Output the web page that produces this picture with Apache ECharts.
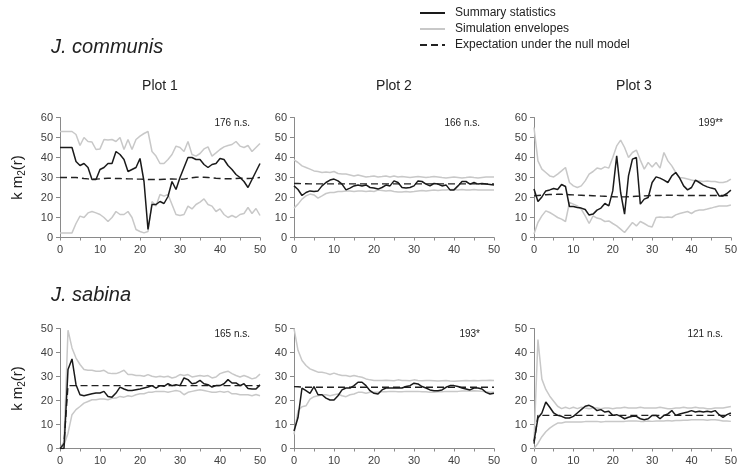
<!DOCTYPE html>
<html>
<head>
<meta charset="utf-8">
<script src="https://cdn.jsdelivr.net/npm/echarts@6/dist/echarts.min.js"></script>
<style>
  html, body { margin: 0; padding: 0; background: #fff; }
  #chart { width: 740px; height: 469px; }
</style>
</head>
<body>
<div id="chart"></div>
<script>
// Distance r (x axis)
const distances = [0,1,2,3,4,5,6,7,8,9,10,11,12,13,14,15,16,17,18,19,20,21,22,23,24,25,26,27,28,29,30,31,32,33,34,35,36,37,38,39,40,41,42,43,44,45,46,47,48,49,50];

// J. communis, Plot 1
const p1Sum = [45,45,45,45,38,36,37,35,29,29,34,35,37,37,43,41.5,39,33,34,35,39.5,28,4,16.5,16.5,18,17,20.5,28,24,30,35,40,40,39,39,36.5,35,36.5,37,39.5,39,36,34,31.5,30,28,25,29,33,37];
const p1Exp = [30,30,30,30,30,29.8,29.5,29.3,29.2,29.2,29.3,29.5,29.6,29.6,29.5,29.5,29.4,29.3,29.3,29.2,29.2,29.1,29,29,29,29,29.1,29.2,29.3,29.2,29.1,29.2,29.6,29.9,30.1,30.2,30.1,30,29.8,29.6,29.5,29.4,29.4,29.4,29.5,29.6,29.6,29.5,29.6,29.8,30];
const p1Up = [53,53,53,53,51.5,46,50,48,47.7,44,44.3,49,48.7,49,48,50,44,49,44,49,50.7,52,53,43,40.7,37,37,39,41.5,45.7,45,43,48,41.5,40.7,42,44.3,45.3,40.7,42.3,44,45.3,46,46.5,48,45.7,45,46,43,45,47];
const p1Lo = [2.3,2.3,2.3,2.3,7,10.7,10,12.3,13,12.3,11.5,10,8,10,13,11.5,11.5,13,10,4,3,2.3,3,18,15.7,21.5,20.7,21.5,16.5,11.5,11,11.5,15.7,14.3,16.5,17.7,19.3,16.5,15.7,13,14.3,11.5,10,11,10,11.5,12,15,12,14.5,11];

// J. communis, Plot 2
const p2Sum = [25.8,24,21,22.5,23.3,23,23.3,25.8,27.5,28.7,29.2,28.3,26.7,23.8,24.7,25.8,26.3,25.8,26.3,25,24.7,24.2,25,26.2,25.8,28.3,27.5,25,24.7,25,25.8,28.3,28,26.7,25.8,27,26.7,25.8,26.3,23.8,23.8,25.8,28,28,26.7,27.5,26.7,27,26.7,26.5,26.2];
const p2Exp = [27,27,26.9,26.9,26.8,26.8,26.8,26.8,26.8,26.8,26.8,26.8,26.8,26.8,26.8,26.8,26.8,26.8,26.8,26.8,26.8,26.8,26.8,26.8,26.8,26.8,26.8,26.8,26.8,26.8,26.8,26.8,26.8,26.8,26.8,26.8,26.8,26.8,26.8,26.8,26.8,26.8,26.8,26.8,26.8,26.8,26.8,26.8,26.8,26.8,26.8];
const p2Up = [38.8,37.5,35.8,35,34.2,33.3,33,32.5,32.8,32.5,33,32,31.7,31.7,31.3,30.8,31.3,30.8,30.3,30.5,30.8,30.3,30.5,30.8,30.3,30.8,30.3,30.5,30.3,30,30.3,30.5,30.3,30,30.2,30.5,30.3,30,29.8,30,30.2,30,29.8,30,30.3,30,29.8,30,30.2,30.3,30.3];
const p2Lo = [14.7,16.7,19.2,20.8,21.7,21.3,19.7,20.8,22,22.5,22.5,23,23,23.3,23.3,23,23.3,23.3,23,23.3,23,23.7,23.5,23.3,23.5,23,22.8,22.8,23,22.8,23,23.3,23.5,23.3,23.5,23.7,23.5,23.7,23.8,24,24,23.8,24,23.8,23.7,24,23.8,23.7,23.8,23.7,23.7];

// J. communis, Plot 3
const p3Sum = [24.2,18,20.3,23.3,23.8,24.5,24,26.5,25.5,15.5,15.5,15,14.7,14,11.2,11.7,13.7,14.7,17,15.8,23.3,40.8,22.5,11.7,30.8,39.2,40,16.7,19.2,20,27.5,30.3,29.7,28.7,27.5,30.8,32.5,29.7,25.8,23.8,25,28.7,27.5,26.2,25.3,24.7,24.2,20.8,20.8,22,23.7];
const p3Exp = [20.8,21,21.2,21.4,21.5,21.5,21.6,21.6,21.5,21.4,21.3,21.2,21.1,21,21,20.9,20.8,20.7,20.6,20.5,20.4,20.3,20.3,20.3,20.4,20.5,20.6,20.7,20.8,20.9,21,21,21,21.1,21.1,21.1,21.1,21,21,21,21,21,21,21,21,21,21,21,21,21,21];
const p3Up = [55,38.3,34.2,32.5,30.8,30.3,31.7,33.3,35,27.5,25.8,25,25.8,28.3,31.7,33,34.7,34.2,35.3,34.7,40,45.8,48.7,45,40,42.5,43.7,38.7,34.2,37.5,35.3,37.5,34.7,42.5,38.3,35.8,32.5,30,29.7,29.2,28.7,28.3,28.3,28,28.3,28,28,27.5,27.5,28,29.2];
const p3Lo = [1.7,7.5,10.8,13.3,12.5,11.3,10,9.2,8,17.5,16.7,15.8,14.2,10.8,7,10.8,9.7,9.2,8,8.3,7,5.8,4.2,2.5,5,7.5,5.8,8,7,5.8,5.3,10,10.3,10,10.3,10,11.3,12,12.5,13,12,13.3,13.7,13.8,14.2,14.7,15.3,15.8,15.8,15.8,16.2];

// J. sabina, Plot 1
const p4Sum = [0,0,32.9,37.3,26.6,22.4,22,22.4,22.8,23.1,23.1,23.8,21.7,21.4,23.1,25.6,24.8,24.2,24.2,24.5,24.8,25.2,25.6,26.2,25.2,26.2,25.9,27,26.2,26.6,26.2,29.4,28.7,27,27.3,28.4,27,26.6,25.6,26.2,26.2,27,28.7,27.3,27.3,26.2,27,25,24.8,24.8,26.5];
const p4Exp = [0,2,26.2,26.2,26.2,26.2,26.2,26.2,26.2,26.2,26.2,26.2,26.2,26.2,26.2,26.2,26.2,26.2,26.2,26.2,26.2,26.2,26.2,26.2,26.2,26.2,26.2,26.2,26.2,26.2,26.2,26.2,26.2,26.2,26.2,26.2,26.2,26.2,26.2,26.2,26.2,26.2,26.2,26.2,26.2,26.2,26.2,26.2,26.2,26.2,26.2];
const p4Up = [0,3,49.3,41.9,37.7,35,32.9,32.6,32.6,32.2,32.2,32.6,31.5,31.2,31.2,31.8,32.6,30.8,30.8,30.4,30.4,30.1,30.8,30.1,29.8,30.1,29.8,30.1,29.4,29.8,30.8,30.4,30.8,29.8,30.1,30.4,30.1,30.4,29.4,29.8,31.2,31.8,32.2,31.2,30.4,29.8,30.4,29.8,29,29.5,31];
const p4Lo = [0,1.5,6.4,14.1,16.2,17.5,18.9,19.6,20.3,20.3,20.6,20.6,20.3,20.9,21,21.7,21.4,22,21.7,22.4,22.8,22.8,23.4,23.4,23.8,23.8,23.8,23.4,23.8,24.2,23.8,22.4,23.4,23.8,24.2,24.5,24.2,23.8,23.4,23.4,23.8,23.4,23.8,22.8,22.8,22.4,22.4,22.4,22,22.5,22];

// J. sabina, Plot 2
const p5Sum = [7.3,12.9,25.2,24.1,23,25.8,22.4,22.4,21,20.2,20.2,22,24.4,25.2,25.2,26.2,27.6,27.6,26.2,24.1,23,22.7,24.4,25.2,25.2,25.2,25.2,25.2,25.8,26.2,27.2,26.9,25.8,25.2,24.4,24.1,24.1,24.4,25.5,26.2,26.2,25.8,25.2,24.8,24.4,25.2,25.2,24.8,23.4,22.7,23];
const p5Exp = [25.8,25.7,25.6,25.5,25.5,25.5,25.5,25.5,25.5,25.5,25.5,25.5,25.5,25.5,25.5,25.5,25.5,25.5,25.5,25.5,25.5,25.5,25.5,25.5,25.5,25.5,25.5,25.5,25.5,25.5,25.5,25.5,25.5,25.5,25.5,25.5,25.5,25.5,25.5,25.5,25.5,25.5,25.5,25.5,25.5,25.5,25.5,25.5,25.5,25.5,25.5];
const p5Up = [50,40.9,36.7,34.6,33.2,32.5,31.8,31.8,31.4,30.8,31.4,30.8,30.4,30.4,30,30.4,30,29.7,29,28.6,28.3,28.3,28.3,28.4,28.3,28.2,28.6,28.3,28.3,28.2,28.6,28.3,28.2,28.3,28.3,28.2,28.1,28.2,28.3,28.1,28,28.1,28.2,28.3,28.2,28.3,28.2,28.3,28.3,28.4,28.3];
const p5Lo = [5.9,15.7,17.4,17.8,20.6,21.6,22,22.4,22.4,22,22.4,22.7,22,21.6,22.4,22.7,23.4,23.4,23,23.4,23.4,23.4,23.6,23.6,23.8,23.8,23.6,23.6,23.8,23.8,23.8,23.8,23.6,23.6,23.4,23.4,23.6,23.6,23.8,23.8,23.8,23.8,24,24,24,24.1,24,23.8,23.6,23.4,23.4];

// J. sabina, Plot 3
const p6Sum = [3,12.7,14.8,19.4,17.2,14.8,13.8,13.4,12.7,12.7,13.4,14.8,16.2,17.6,18,17.2,15.8,16.2,15.2,15.5,13.8,14.1,13.4,12.4,13,13.4,13.4,12.4,12,12.4,13.8,13.8,12.4,13.8,14.4,15.8,13.8,14.4,14.8,15.2,15.8,15.2,15.5,15.2,15.5,15.2,15.8,14.1,13,14.1,14.8];
const p6Exp = [2,13.8,13.8,13.8,13.8,13.8,13.8,13.8,13.8,13.8,13.8,13.8,13.8,13.8,13.8,13.8,13.8,13.8,13.8,13.8,13.8,13.8,13.8,13.8,13.8,13.8,13.8,13.8,13.8,13.8,13.8,13.8,13.8,13.8,13.8,13.8,13.8,13.8,13.8,13.8,13.8,13.8,13.8,13.8,13.8,13.8,13.8,13.8,13.8,13.8,13.8];
const p6Up = [2.8,45.4,28.9,24.6,21.8,19.7,17.6,16.6,17.2,16.6,17.2,16.6,17.2,16.9,16.6,16.9,16.9,16.6,16.9,16.9,16.6,16.9,16.9,17.2,16.9,16.9,16.9,17.2,16.9,16.9,16.9,16.9,17.2,16.9,16.6,16.6,16.9,16.9,17.2,16.9,16.9,17.2,16.9,16.9,16.6,16.6,16.9,16.9,16.9,17.2,17.5];
const p6Lo = [0,2.1,4.9,7,8.5,9.6,10.6,10.6,11,11,11,11,11,11.2,11.2,11.3,11.3,11,11.2,11.3,11.3,11.3,11.2,11.3,11.5,11.5,11.5,11.3,11.3,11.5,11.3,11.5,11.5,11.5,11.7,11.5,11.7,11.7,11.8,11.8,12,12,12,12,11.8,12,12,11.8,11.5,11.5,11.3];

// Panel texts
const speciesNames = ['J. communis', 'J. sabina'];
const plotNames = ['Plot 1', 'Plot 2', 'Plot 3'];
const testLabels = ['176 n.s.', '166 n.s.', '199**', '165 n.s.', '193*', '121 n.s.'];
const yMax = [60, 60, 60, 50, 50, 50];
const seriesNames = ['Summary statistics', 'Simulation envelopes', 'Expectation under the null model'];

const panels = [
  { sum: p1Sum, exp: p1Exp, up: p1Up, lo: p1Lo },
  { sum: p2Sum, exp: p2Exp, up: p2Up, lo: p2Lo },
  { sum: p3Sum, exp: p3Exp, up: p3Up, lo: p3Lo },
  { sum: p4Sum, exp: p4Exp, up: p4Up, lo: p4Lo },
  { sum: p5Sum, exp: p5Exp, up: p5Up, lo: p5Lo },
  { sum: p6Sum, exp: p6Exp, up: p6Up, lo: p6Lo }
];

const FONT = 'Liberation Sans';
const colLeft = [60, 294, 534];
const rowTop = [117.5, 328.5];
const plotW = 200, plotH = 120;

const pairs = vals => vals.map((v, i) => [distances[i], v]);

const grids = [], xAxes = [], yAxes = [], series = [], graphics = [];

panels.forEach((p, k) => {
  const row = Math.floor(k / 3), col = k % 3;
  grids.push({ left: colLeft[col], top: rowTop[row], width: plotW, height: plotH });
  xAxes.push({
    gridIndex: k, type: 'value', min: 0, max: 50, interval: 10,
    axisLine: { lineStyle: { color: '#8a8a8a', width: 1 } },
    axisTick: { show: true, length: 3, inside: false, lineStyle: { color: '#8a8a8a' } },
    minorTick: { show: true, splitNumber: 2, length: 3, lineStyle: { color: '#8a8a8a' } },
    axisLabel: { color: '#404040', fontSize: 11, fontFamily: FONT, margin: 7 },
    splitLine: { show: false }
  });
  const y = {
    gridIndex: k, type: 'value', min: 0, max: yMax[k], interval: 10,
    axisLine: { show: true, lineStyle: { color: '#8a8a8a', width: 1 } },
    axisTick: { show: true, length: 4, lineStyle: { color: '#8a8a8a' } },
    axisLabel: { color: '#404040', fontSize: 11, fontFamily: FONT, margin: 7 },
    splitLine: { show: false }
  };
  if (col === 0) {
    Object.assign(y, {
      name: '{a|k m}{s|2}{a|(r)}',
      nameLocation: 'middle',
      nameGap: 33,
      nameRotate: 90,
      nameTextStyle: {
        rich: {
          a: { fontSize: 15, fontFamily: FONT, color: '#222' },
          s: { fontSize: 10, fontFamily: FONT, color: '#222', padding: [8, 0, 0, 0] }
        }
      }
    });
  }
  yAxes.push(y);

  const base = { type: 'line', xAxisIndex: k, yAxisIndex: k, symbol: 'none', silent: true, animation: false };
  series.push(Object.assign({}, base, {
    name: seriesNames[1], data: pairs(p.up), z: 2,
    lineStyle: { color: '#c8c8c8', width: 1.5 }, itemStyle: { color: '#c8c8c8' }
  }));
  series.push(Object.assign({}, base, {
    name: seriesNames[1], data: pairs(p.lo), z: 2,
    lineStyle: { color: '#c8c8c8', width: 1.5 }, itemStyle: { color: '#c8c8c8' }
  }));
  series.push(Object.assign({}, base, {
    name: seriesNames[2], data: pairs(p.exp), z: 3,
    lineStyle: { color: '#222', width: 1.4, type: [7, 4] }, itemStyle: { color: '#222' }
  }));
  series.push(Object.assign({}, base, {
    name: seriesNames[0], data: pairs(p.sum), z: 4,
    lineStyle: { color: '#1a1a1a', width: 1.5 }, itemStyle: { color: '#1a1a1a' }
  }));

  graphics.push({
    type: 'text', right: 740 - (colLeft[col] + plotW) + (col === 0 ? 10 : col === 1 ? 14 : 11),
    top: rowTop[row] + 1,
    style: { text: testLabels[k], font: '10px "' + FONT + '"', fill: '#222' }
  });
});

plotNames.forEach((t, c) => {
  graphics.push({
    type: 'text', x: colLeft[c] + plotW / 2, y: 86,
    style: { text: t, font: '14px "' + FONT + '"', fill: '#222', align: 'center', verticalAlign: 'middle' }
  });
});
graphics.push({
  type: 'text', x: 51, y: 47,
  style: { text: speciesNames[0], font: 'italic 20px "' + FONT + '"', fill: '#222', verticalAlign: 'middle' }
});
graphics.push({
  type: 'text', x: 51, y: 295,
  style: { text: speciesNames[1], font: 'italic 20px "' + FONT + '"', fill: '#222', verticalAlign: 'middle' }
});

const chart = echarts.init(document.getElementById('chart'), null, { renderer: 'canvas' });
chart.setOption({
  animation: false,
  backgroundColor: '#fff',
  grid: grids,
  xAxis: xAxes,
  yAxis: yAxes,
  series: series,
  legend: {
    orient: 'vertical', left: 414, top: 2,
    data: seriesNames,
    itemWidth: 25, itemHeight: 14, itemGap: 4,
    selectedMode: false,
    itemStyle: { opacity: 0 },
    textStyle: { fontSize: 12, fontFamily: FONT, color: '#222', padding: [0, 0, 0, 5] }
  },
  graphic: graphics
});
</script>
</body>
</html>
